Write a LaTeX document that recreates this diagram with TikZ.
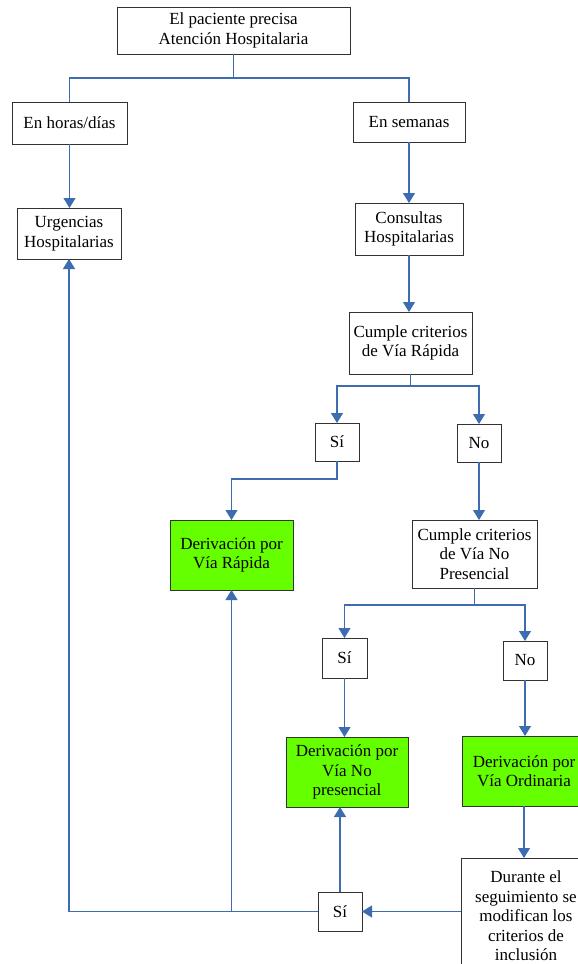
\documentclass[tikz,border=0pt]{standalone}
\usepackage{fontspec}
\setmainfont{Liberation Serif}
\usetikzlibrary{arrows.meta}
\definecolor{lineblue}{RGB}{62,108,176}
\definecolor{boxborder}{RGB}{50,50,50}
\definecolor{vgreen}{RGB}{102,255,0}
\tikzset{
  box/.style={draw=boxborder, line width=1pt, fill=white, inner sep=0pt, outer sep=0pt,
    align=center, font=\fontsize{17}{19.5}\selectfont},
  gbox/.style={box, fill=vgreen},
  conn/.style={draw=lineblue, line width=1.1pt},
  arr/.style={conn, -{Triangle[width=12pt,length=10pt]}}
}
\begin{document}
\begin{tikzpicture}[x=1pt,y=-1pt]
\useasboundingbox (0,0) rectangle (578,964);
\clip (0,0) rectangle (578,964);
\fill[white] (0,0) rectangle (578,964);

\node[box, minimum width=233pt, minimum height=47pt] (top) at (233.5,30.5) {El paciente precisa\\Atención Hospitalaria};
\node[box, minimum width=115pt, minimum height=42pt] (horas) at (69.5,123) {En horas/días};
\node[box, minimum width=112pt, minimum height=40pt] (sem) at (409,122) {En semanas};
\node[box, minimum width=104pt, minimum height=51pt] (urg) at (69,233.5) {Urgencias\\Hospitalarias};
\node[box, minimum width=108pt, minimum height=52pt] (cons) at (409,229) {Consultas\\Hospitalarias};
\node[box, minimum width=123pt, minimum height=62pt] (cvr) at (410.5,343) {Cumple criterios\\de Vía Rápida};
\node[box, minimum width=44pt, minimum height=38pt] (si1) at (337,442) {Sí};
\node[box, minimum width=44pt, minimum height=38pt] (no1) at (479,443) {No};
\node[gbox, minimum width=123pt, minimum height=70pt] (dvr) at (231.5,555) {Derivación por\\Vía Rápida};
\node[box, minimum width=125pt, minimum height=68pt] (cvnp) at (474.5,554) {Cumple criterios\\de Vía No\\Presencial};
\node[box, minimum width=45pt, minimum height=40pt] (si2) at (344.5,658) {Sí};
\node[box, minimum width=44pt, minimum height=39pt] (no2) at (525,660.5) {No};
\node[gbox, minimum width=122pt, minimum height=70pt] (dvnp) at (347,772) {Derivación por\\Vía No\\presencial};
\node[gbox, minimum width=124pt, minimum height=70pt] (dvo) at (524,771) {Derivación por\\Vía Ordinaria};
\node[box, minimum width=130pt, minimum height=116pt] (dur) at (526,916) {Durante el\\seguimiento se\\modifican los\\criterios de\\inclusión};
\node[box, minimum width=44pt, minimum height=39pt] (si3) at (340,911.5) {Sí};

\coordinate (j1) at (233.5,78);
\coordinate (j2) at (410.5,386);
\coordinate (j3) at (337,479);
\coordinate (j4) at (474.5,605);

\draw[conn] (top.south) -- (j1) -| (horas.north);
\draw[conn] (j1) -| (sem.north);
\draw[arr] (horas.south) -- (horas.south |- urg.north);
\draw[arr] (sem.south) -- (sem.south |- cons.north);
\draw[arr] (cons.south) -- (cons.south |- cvr.north);
\draw[conn] (cvr.south) -- (j2);
\draw[arr] (j2) -| (si1.north);
\draw[arr] (j2) -| (no1.north);
\draw[arr] (si1.south) -- (j3) -| (dvr.north);
\draw[arr] (no1.south) -- (no1.south |- cvnp.north);
\draw[conn] (cvnp.south) -- (j4);
\draw[arr] (j4) -| (si2.north);
\draw[arr] (j4) -| (no2.north);
\draw[arr] (si2.south) -- (si2.south |- dvnp.north);
\draw[arr] (no2.south) -- (no2.south |- dvo.north);
\draw[arr] (dvo.south) -- (dvo.south |- dur.north);
\draw[arr] (dur.west |- si3.east) -- (si3.east);
\draw[arr] (si3.north) -- (si3.north |- dvnp.south);
\draw[arr] (si3.west) -| (urg.south);
\draw[arr] (dvr.south |- si3.west) -- (dvr.south);
\end{tikzpicture}
\end{document}
